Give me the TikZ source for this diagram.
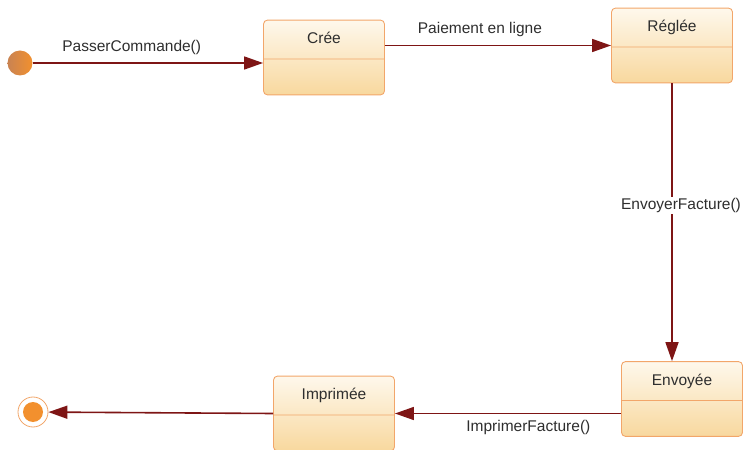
\documentclass[tikz,border=0pt]{standalone}
\usepackage{fontspec}
\setmainfont{Liberation Sans}
\usetikzlibrary{positioning, arrows.meta, shapes.multipart, calc}

\definecolor{stateTop}{HTML}{FEF8EC}
\definecolor{stateBottom}{HTML}{F8D89E}
\definecolor{stateBorder}{HTML}{F2A66A}
\definecolor{arrowRed}{HTML}{7E1515}
\definecolor{labelGray}{HTML}{2E2E2E}
\definecolor{initLeft}{HTML}{C98352}
\definecolor{initRight}{HTML}{F2902E}

\begin{document}
\begin{tikzpicture}[x=1bp, y=-1bp,
    txt/.style={font=\fontsize{15.5bp}{18bp}\selectfont, text=labelGray},
    state/.style={txt, rectangle split, rectangle split parts=2,
        draw=stateBorder, line width=0.9bp, rounded corners=4bp,
        top color=stateTop, bottom color=stateBottom,
        minimum width=121bp, inner ysep=12bp, text height=11bp, text depth=3bp,
        rectangle split empty part height=11bp, rectangle split empty part depth=0bp},
    trans/.style={draw=arrowRed, line width=1.6bp, -{Triangle[length=19bp, width=13bp]}},
    initial/.style={circle, minimum size=25bp, inner sep=0, left color=initLeft, right color=initRight},
    final/.style={circle, minimum size=30bp, inner sep=0, draw=stateBorder, line width=0.8bp, fill=white,
        path picture={\fill[initRight] (path picture bounding box.center) circle (10bp);}}]
    \useasboundingbox (0,0) rectangle (745,450);

    % States
    \node[initial] (start) at (20,63) {};
    \node[state] (cree) at (324,57.5) {Crée \nodepart{second}};
    \node[state] (reglee) at (672,45.5) {Réglée \nodepart{second}};
    \node[state] (envoyee) at (682,399) {Envoyée \nodepart{second}};
    \node[state] (imprimee) at (334,413.5) {Imprimée \nodepart{second}};
    \node[final] (stop) at (33,412) {};

    % Transitions
    \draw[trans] (start) -- (cree.west |- start) node[txt, pos=0.43, above=4bp] {PasserCommande()};
    \draw[trans] (cree.east |- reglee.west) -- (reglee.west) node[txt, pos=0.42, above=5bp] {Paiement en ligne};
    \draw[trans] (reglee.south) -- (reglee.south |- envoyee.north)
        node[txt, pos=0.44, fill=white, inner sep=1bp, xshift=9bp] {EnvoyerFacture()};
    \draw[trans] (envoyee.west |- imprimee.east) -- (imprimee.east) node[txt, pos=0.41, below=3bp] {ImprimerFacture()};
    \draw[trans] (imprimee.west) -- (stop);

\end{tikzpicture}
\end{document}
